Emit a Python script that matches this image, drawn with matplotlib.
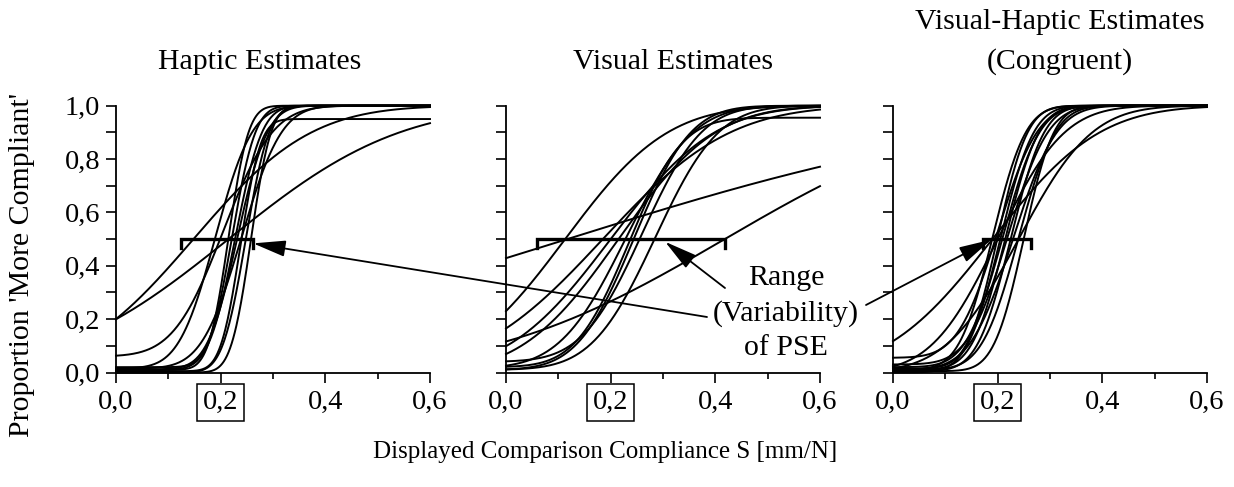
import math
import numpy as np
import matplotlib
matplotlib.use("Agg")
import matplotlib.pyplot as plt
from matplotlib.ticker import MultipleLocator

plt.rcParams['font.family'] = ['Liberation Serif', 'DejaVu Serif']

# fitted psychometric functions:
# PSE (50% point), spread sigma, lower and upper asymptote
hap_pse   = [0.215, 0.148, 0.205, 0.190, 0.215, 0.222, 0.228, 0.238, 0.240, 0.248, 0.258, 0.232]
hap_sigma = [0.255, 0.176, 0.075, 0.055, 0.030, 0.035, 0.040, 0.030, 0.060, 0.035, 0.030, 0.045]
hap_low   = [0.0,   0.0,   0.060, 0.015, 0.010, 0.020, 0.010, 0.005, 0.015, 0.0,   0.0,   0.012]
hap_high  = [1.0,   1.0,   1.0,   1.0,   1.0,   1.0,   1.0,   0.950, 1.0,   1.0,   1.0,   1.0]

vis_pse   = [0.113, 0.185, 0.200, 0.215, 0.235, 0.245, 0.260, 0.285, 0.230, 0.117, 0.418]
vis_sigma = [0.153, 0.190, 0.155, 0.145, 0.080, 0.085, 0.090, 0.095, 0.100, 0.650, 0.350]
vis_low   = [0.0,   0.0,   0.0,   0.0,   0.020, 0.010, 0.040, 0.010, 0.015, 0.0,   0.0]
vis_high  = [1.0,   1.0,   1.0,   1.0,   0.955, 1.0,   1.0,   1.0,   1.0,   1.0,   1.0]

vh_pse   = [0.190, 0.200, 0.240, 0.200, 0.190, 0.200, 0.205, 0.210, 0.215, 0.220, 0.225, 0.230, 0.240, 0.250]
vh_sigma = [0.160, 0.100, 0.110, 0.060, 0.050, 0.045, 0.050, 0.055, 0.050, 0.060, 0.050, 0.065, 0.055, 0.045]
vh_low   = [0.0,   0.0,   0.0,   0.055, 0.010, 0.015, 0.0,   0.020, 0.010, 0.030, 0.005, 0.010, 0.010, 0.005]
vh_high  = [1.0] * 14

# PSE range bars (left end, right end)
bar_lo = [0.125, 0.060, 0.172]
bar_hi = [0.262, 0.418, 0.263]

titles = ['Haptic Estimates', 'Visual Estimates', 'Visual-Haptic Estimates\n(Congruent)']
title_xy = [(260, 62), (673, 62), (1060, 42)]   # image pixels

# arrow tips (data coords of each panel) and tails (image pixels)
tip = [(0.262, 0.484), (0.304, 0.490), (0.188, 0.498)]
tail = [(707, 317), (725, 288), (866, 305)]

W, H = 1234, 487
fig = plt.figure(figsize=(W / 100, H / 100), dpi=100)

lefts = [116, 506, 893]
ax_w, ax_top, ax_bot = 314, 105.7, 372.5

def cumgauss(x, mu, s, lo, hi):
    z = (x - mu) / (s * math.sqrt(2))
    return lo + (hi - lo) * 0.5 * (1 + np.vectorize(math.erf)(z))

panels = [(hap_pse, hap_sigma, hap_low, hap_high),
          (vis_pse, vis_sigma, vis_low, vis_high),
          (vh_pse, vh_sigma, vh_low, vh_high)]

xs = np.linspace(0, 0.6, 400)
axes = []
for i, (pse, sig, lo, hi) in enumerate(panels):
    ax = fig.add_axes([lefts[i] / W, (H - ax_bot) / H, ax_w / W, (ax_bot - ax_top) / H])
    ax.patch.set_visible(False)
    for m, s, a, b in zip(pse, sig, lo, hi):
        ax.plot(xs, cumgauss(xs, m, s, a, b), color='black', lw=1.4, clip_on=False)
    ax.plot([bar_lo[i], bar_lo[i], bar_hi[i], bar_hi[i]], [0.465, 0.5, 0.5, 0.465],
            color='black', lw=2.4, solid_joinstyle='miter', clip_on=False)
    ax.set_xlim(0, 0.6)
    ax.set_ylim(0, 1.0)
    for sp in ['top', 'right']:
        ax.spines[sp].set_visible(False)
    for sp in ['left', 'bottom']:
        ax.spines[sp].set_linewidth(1.3)
    ax.xaxis.set_minor_locator(MultipleLocator(0.1))
    ax.yaxis.set_minor_locator(MultipleLocator(0.1))
    ax.tick_params(which='both', direction='out', width=1.2, labelsize=20.5)
    ax.tick_params(axis='x', which='major', length=7.5, pad=5)
    ax.tick_params(axis='x', which='minor', length=4)
    ax.tick_params(axis='y', which='both', length=7.5, pad=4)
    ax.set_xticks([0, 0.2, 0.4, 0.6], ['0,0', '0,2', '0,4', '0,6'])
    ax.get_xticklabels()[1].set_bbox(dict(boxstyle='square,pad=0.2', fc='none',
                                          ec='black', lw=1.1))
    if i == 0:
        ax.set_yticks([0, 0.2, 0.4, 0.6, 0.8, 1.0], ['0,0', '0,2', '0,4', '0,6', '0,8', '1,0'])
    else:
        ax.set_yticks([0, 0.2, 0.4, 0.6, 0.8, 1.0], [])
    tx, ty = title_xy[i]
    fig.text(tx / W, 1 - ty / H, titles[i], ha='center', va='center', fontsize=21.5,
             linespacing=1.6)
    axes.append(ax)

for i, ax in enumerate(axes):
    ax.annotate('', xy=tip[i], xycoords='data',
                xytext=(tail[i][0], H - tail[i][1]), textcoords='figure pixels',
                arrowprops=dict(arrowstyle='-|>,head_length=2.0,head_width=0.5',
                                color='black', lw=1.3, shrinkA=0, shrinkB=0,
                                mutation_scale=10))

fig.text(786 / W, 1 - 313 / H, 'Range\n(Variability)\nof PSE', ha='center', va='center',
         fontsize=21.5, linespacing=1.4)
fig.text(605 / W, 1 - 452 / H, 'Displayed Comparison Compliance S [mm/N]',
         ha='center', va='center', fontsize=18)
fig.text(22 / W, 1 - 265 / H, "Proportion 'More Compliant'", rotation=90,
         ha='center', va='center', fontsize=21.5)

fig.savefig('out.png', dpi=100)
